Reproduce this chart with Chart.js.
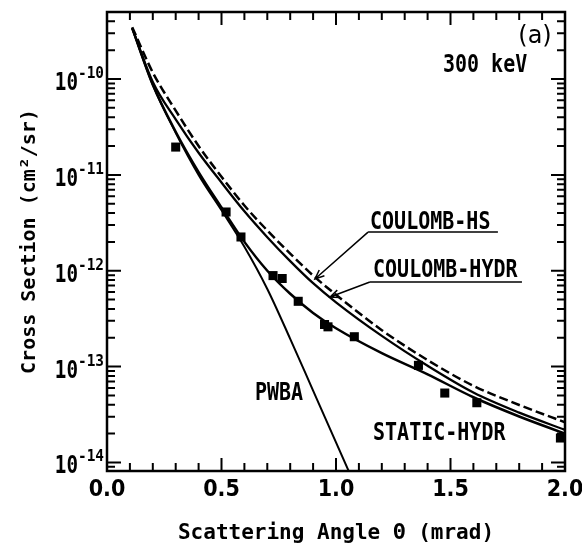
<!DOCTYPE html>
<html lang="en">
<head>
<meta charset="UTF-8">
<title>Cross section vs scattering angle, 300 keV</title>
<script src="https://cdn.jsdelivr.net/npm/chart.js"></script>
<style>
  body { margin: 0; background: #fff; }
  #chart { display: block; }
</style>
</head>
<body>
<canvas id="chart" width="582" height="549"></canvas>
<script>
// calculated curves (angle in mrad, cross section in cm^2/sr)
const thetaCalc = [0.11, 0.2, 0.3, 0.4, 0.5, 0.6, 0.7, 0.8, 0.9, 1.0, 1.2, 1.4, 1.6, 1.8, 2.0];
const staticHydr = [3.39e-10, 8.7e-11, 2.82e-11, 1.07e-11, 4.57e-12, 2.0e-12, 1.0e-12, 5.75e-13, 3.63e-13, 2.51e-13, 1.38e-13, 8.3e-14, 4.79e-14, 3.02e-14, 2.0e-14];
const coulombHydr = [3.39e-10, 9.33e-11, 3.8e-11, 1.7e-11, 8.32e-12, 4.17e-12, 2.24e-12, 1.26e-12, 7.41e-13, 4.68e-13, 2.09e-13, 1.02e-13, 5.37e-14, 3.31e-14, 2.19e-14];
const coulombHs = [3.47e-10, 1.17e-10, 4.68e-11, 2.0e-11, 9.55e-12, 4.79e-12, 2.63e-12, 1.51e-12, 8.91e-13, 5.62e-13, 2.4e-13, 1.17e-13, 6.31e-14, 3.98e-14, 2.63e-14];
const thetaPwba = [0.11, 0.2, 0.3, 0.4, 0.5, 0.6, 0.7, 0.8, 0.9, 1.0, 1.1];
const pwba = [3.39e-10, 8.7e-11, 2.75e-11, 1.0e-11, 4.27e-12, 1.78e-12, 6.46e-13, 1.95e-13, 5.62e-14, 1.62e-14, 4.68e-15];

// measured points
const thetaExp = [0.30, 0.52, 0.585, 0.725, 0.765, 0.835, 0.95, 0.965, 1.08, 1.36, 1.475, 1.615, 1.98];
const sigmaExp = [1.95e-11, 4.1e-12, 2.25e-12, 8.9e-13, 8.3e-13, 4.8e-13, 2.75e-13, 2.6e-13, 2.05e-13, 1.03e-13, 5.3e-14, 4.2e-14, 1.8e-14];

// axes
const xTickValues = [0, 0.1, 0.2, 0.3, 0.4, 0.5, 0.6, 0.7, 0.8, 0.9, 1.0, 1.1, 1.2, 1.3, 1.4, 1.5, 1.6, 1.7, 1.8, 1.9, 2.0];
const xLabelValues = [0, 0.5, 1.0, 1.5, 2.0];
const yDecades = [-14, -13, -12, -11, -10];

const MONO = '"DejaVu Sans Mono", monospace';
const COND = '"DejaVu Sans Condensed", "Liberation Sans Narrow", "DejaVu Sans", sans-serif';

const pts = (xs, ys) => xs.map((x, i) => ({ x, y: ys[i] }));

function curve(label, xs, ys, dash, width) {
  return {
    type: 'line',
    label,
    data: pts(xs, ys),
    borderColor: '#000',
    borderWidth: width,
    borderDash: dash,
    pointRadius: 0,
    fill: false,
    cubicInterpolationMode: 'monotone'
  };
}

// text drawn squeezed horizontally, the original lettering is narrow
function squeezed(ctx, text, x, y, font, sx, align) {
  ctx.save();
  ctx.font = font;
  const w = ctx.measureText(text).width * sx;
  let left = x;
  if (align === 'right') left = x - w;
  if (align === 'center') left = x - w / 2;
  ctx.translate(left, y);
  ctx.scale(sx, 1);
  ctx.textAlign = 'left';
  ctx.textBaseline = 'alphabetic';
  ctx.fillText(text, 0, 0);
  ctx.restore();
  return w;
}

function arrow(ctx, x1, y1, x2, y2) {
  const ang = Math.atan2(y2 - y1, x2 - x1);
  const head = 10;
  ctx.beginPath();
  ctx.moveTo(x1, y1);
  ctx.lineTo(x2, y2);
  ctx.moveTo(x2 - head * Math.cos(ang - 0.4), y2 - head * Math.sin(ang - 0.4));
  ctx.lineTo(x2, y2);
  ctx.lineTo(x2 - head * Math.cos(ang + 0.4), y2 - head * Math.sin(ang + 0.4));
  ctx.stroke();
}

// labels placed in data units: [x, y]
const notes = {
  hs: { text: 'COULOMB-HS', at: [1.1485, 2.72e-12], line: [1.14, 1.707, 2.53e-12], tip: [0.908, 8.2e-13] },
  hydr: { text: 'COULOMB-HYDR', at: [1.1616, 8.6e-13], line: [1.148, 1.812, 7.64e-13], tip: [0.974, 5.32e-13] },
  pwba: { text: 'PWBA', at: [0.646, 4.49e-14] },
  stat: { text: 'STATIC-HYDR', at: [1.1616, 1.72e-14] },
  energy: { text: '300 keV', at: [1.467, 1.18e-10] },
  panel: { text: '(a)', at: [1.869, 2.88e-10] }
};

const framePlugin = {
  id: 'frame',
  afterDatasetsDraw(chart) {
    const { ctx, chartArea: a, scales: { x, y } } = chart;
    ctx.save();
    ctx.strokeStyle = '#000';
    ctx.fillStyle = '#000';

    // inward ticks on all four sides
    ctx.lineWidth = 2;
    ctx.beginPath();
    xTickValues.forEach(v => {
      const px = x.getPixelForValue(v);
      if (px <= a.left + 1 || px >= a.right - 1) return;
      const len = xLabelValues.includes(v) ? 13 : 8;
      ctx.moveTo(px, a.bottom); ctx.lineTo(px, a.bottom - len);
      ctx.moveTo(px, a.top); ctx.lineTo(px, a.top + len);
    });
    for (let d = -15; d <= -9; d++) {
      for (let m = 1; m <= 9; m++) {
        const v = m * Math.pow(10, d);
        if (v < y.min || v > y.max) continue;
        const py = y.getPixelForValue(v);
        const len = m === 1 ? 14 : 8;
        ctx.moveTo(a.left, py); ctx.lineTo(a.left + len, py);
        ctx.moveTo(a.right, py); ctx.lineTo(a.right - len, py);
      }
    }
    ctx.stroke();

    // frame
    ctx.lineWidth = 2.5;
    ctx.strokeRect(a.left, a.top, a.width, a.height);

    // y tick labels 10^n
    yDecades.forEach(d => {
      const py = y.getPixelForValue(Math.pow(10, d));
      const w = squeezed(ctx, String(d), a.left - 3, py - 1, 'bold 16px ' + MONO, 0.9, 'right');
      squeezed(ctx, '10', a.left - 3 - w, py + 11, 'bold 25px ' + MONO, 0.77, 'right');
    });

    // annotations
    const big = 'bold 25px ' + MONO;
    ['hs', 'hydr', 'pwba', 'stat', 'energy'].forEach(k => {
      const n = notes[k];
      squeezed(ctx, n.text, x.getPixelForValue(n.at[0]), y.getPixelForValue(n.at[1]), big, 0.8, 'left');
    });
    squeezed(ctx, notes.panel.text, x.getPixelForValue(notes.panel.at[0]), y.getPixelForValue(notes.panel.at[1]) + 8,
      '24px "DejaVu Sans", sans-serif', 1, 'center');

    ctx.lineWidth = 1.5;
    ['hs', 'hydr'].forEach(k => {
      const n = notes[k];
      const ly = y.getPixelForValue(n.line[2]);
      const lx1 = x.getPixelForValue(n.line[0]);
      const lx2 = x.getPixelForValue(n.line[1]);
      ctx.beginPath();
      ctx.moveTo(lx1, ly); ctx.lineTo(lx2, ly);
      ctx.stroke();
      arrow(ctx, lx1, ly, x.getPixelForValue(n.tip[0]), y.getPixelForValue(n.tip[1]));
    });
    ctx.restore();
  }
};

new Chart(document.getElementById('chart'), {
  data: {
    datasets: [
      curve('STATIC-HYDR', thetaCalc, staticHydr, [], 2.5),
      curve('COULOMB-HYDR', thetaCalc, coulombHydr, [], 2.3),
      curve('COULOMB-HS', thetaCalc, coulombHs, [9, 4], 2.5),
      curve('PWBA', thetaPwba, pwba, [], 2),
      {
        type: 'scatter',
        label: 'experiment',
        data: pts(thetaExp, sigmaExp),
        pointStyle: 'rect',
        pointRadius: 6.4,
        backgroundColor: '#000',
        borderColor: '#000',
        borderWidth: 0
      }
    ]
  },
  options: {
    responsive: false,
    animation: false,
    devicePixelRatio: 1,
    layout: { padding: { top: 12, right: 17, bottom: 0, left: 0 } },
    plugins: { legend: { display: false }, tooltip: { enabled: false } },
    scales: {
      x: {
        type: 'linear',
        min: 0,
        max: 2,
        afterBuildTicks: s => { s.ticks = xLabelValues.map(v => ({ value: v })); },
        afterFit: s => { s.height = 78; s.paddingLeft = 0; s.paddingRight = 0; },
        ticks: {
          autoSkip: false,
          maxRotation: 0,
          padding: 5,
          color: '#000',
          font: { family: COND, size: 23, weight: 'bold' },
          callback: v => Number(v).toFixed(1)
        },
        grid: { display: false, drawTicks: false },
        border: { display: false },
        title: {
          display: true,
          text: 'Scattering Angle Θ (mrad)',
          color: '#000',
          font: { family: MONO, size: 21, weight: 'bold' },
          padding: { top: 0, bottom: 3 }
        }
      },
      y: {
        type: 'logarithmic',
        min: 8.15e-15,
        max: 5.0e-10,
        afterFit: s => { s.width = 107; },
        ticks: { display: false },
        grid: { display: false, drawTicks: false },
        border: { display: false },
        title: {
          display: true,
          text: 'Cross Section (cm²/sr)',
          color: '#000',
          font: { family: MONO, size: 20, weight: 'bold' },
          padding: { top: 18, bottom: 0 }
        }
      }
    }
  },
  plugins: [framePlugin]
});
</script>
</body>
</html>
